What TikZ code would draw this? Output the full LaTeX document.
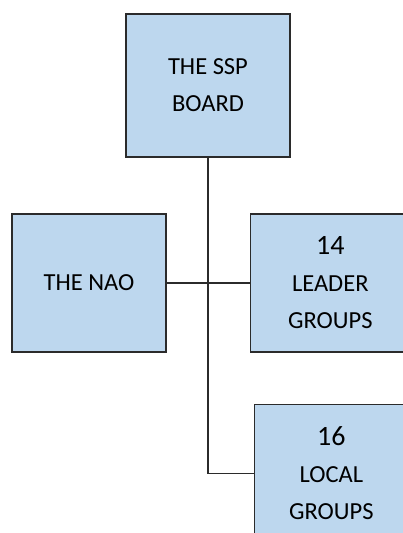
\documentclass[tikz,border=0pt]{standalone}
\usepackage{fontspec}
\setmainfont{Carlito}
\usetikzlibrary{positioning}
\definecolor{boxblue}{HTML}{BDD7EE}
\definecolor{linegray}{HTML}{2B2B2B}

\begin{document}
\begin{tikzpicture}[x=1pt,y=-1pt,
    orgbox/.style={draw=linegray, line width=1.3pt, fill=boxblue, align=center,
      inner sep=0pt, font=\fontsize{24.5}{37}\selectfont},
    link/.style={draw=linegray, line width=1.3pt}]
  \useasboundingbox (0,0) rectangle (403,533);
  % boxes
  \node[orgbox, minimum width=164pt, minimum height=143pt] (ssp) at (208,85.5) {THE SSP\\BOARD};
  \node[orgbox, minimum width=154pt, minimum height=138pt] (nao) at (89,283) {THE NAO};
  \node[orgbox, minimum width=160pt, minimum height=138pt, right=83pt of nao] (leader)
    {{\fontsize{28}{37}\selectfont 14}\\LEADER\\GROUPS};
  \node[orgbox, minimum width=154pt, minimum height=138pt, below=51pt of leader, xshift=1pt] (local)
    {{\fontsize{28}{37}\selectfont 16}\\LOCAL\\GROUPS};
  % connectors
  \draw[link] (ssp.south) |- (local.west);
  \draw[link] (nao.east) -- (leader.west);
\end{tikzpicture}
\end{document}
